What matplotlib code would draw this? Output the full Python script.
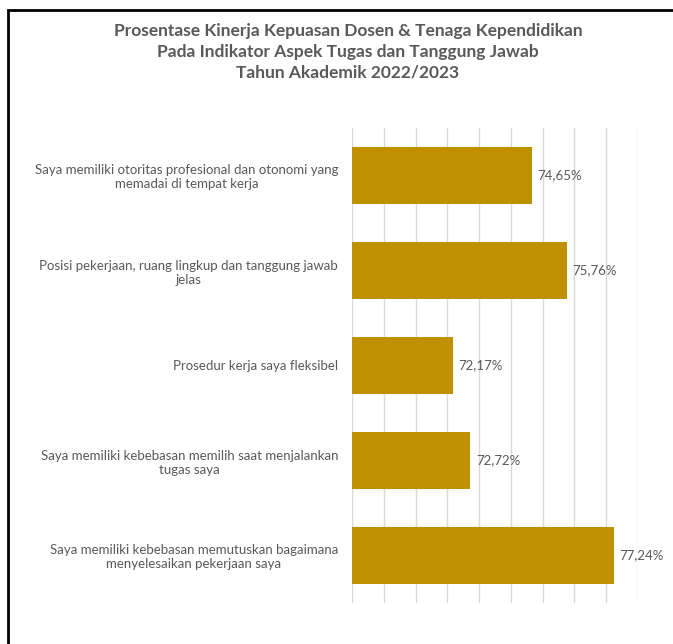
import matplotlib.pyplot as plt
import matplotlib.patches as mpatches

plt.rcParams['font.family'] = ['Lato', 'DejaVu Sans']

labels = ["Saya memiliki otoritas profesional dan otonomi yang\nmemadai di tempat kerja",
          "Posisi pekerjaan, ruang lingkup dan tanggung jawab\njelas",
          "Prosedur kerja saya fleksibel",
          "Saya memiliki kebebasan memilih saat menjalankan\ntugas saya",
          "Saya memiliki kebebasan memutuskan bagaimana\nmenyelesaikan pekerjaan saya"]
values = [74.65, 75.76, 72.17, 72.72, 77.24]
value_text = ["74,65%", "75,76%", "72,17%", "72,72%", "77,24%"]

title = ("Prosentase Kinerja Kepuasan Dosen & Tenaga Kependidikan\n"
         "Pada Indikator Aspek Tugas dan Tanggung Jawab\n"
         "Tahun Akademik 2022/2023")

gold = '#BF9000'
grey = '#595959'
xmin, xmax = 69, 78

fig = plt.figure(figsize=(6.73, 6.44), dpi=100)
ax = fig.add_axes([352/673, 1-603/644, (638-352)/673, (603-128)/644])

ypos = list(range(len(values)))
ax.barh(ypos, [v - xmin for v in values], left=xmin, height=0.59, color=gold, zorder=3)
for y, v, t in zip(ypos, values, value_text):
    ax.text(v + 0.18, y, t, va='center', ha='left', fontsize=9.5, color=grey)

ax.set_xlim(xmin, xmax)
ax.set_ylim(len(values) - 0.5, -0.5)
ax.set_xticks(range(xmin, xmax + 1))
ax.set_xticklabels([])
ax.set_yticks(ypos)
ax.set_yticklabels(labels, fontsize=9.5, color=grey, multialignment='center')
ax.tick_params(length=0, pad=10)
ax.grid(axis='x', color='#D9D9D9', linewidth=1, zorder=0)
for s in ax.spines.values():
    s.set_visible(False)

fig.text(348/673, 1-23/644, title, ha='center', va='top', fontsize=12.5,
         fontweight='bold', color=grey, linespacing=1.35)

# border of the chart area
fig.patches.append(mpatches.Rectangle((8/673, -0.05), 1.1, 1-10/644+0.05,
                                      transform=fig.transFigure, fill=False,
                                      edgecolor='black', linewidth=2))

fig.savefig('out.png', dpi=100)
